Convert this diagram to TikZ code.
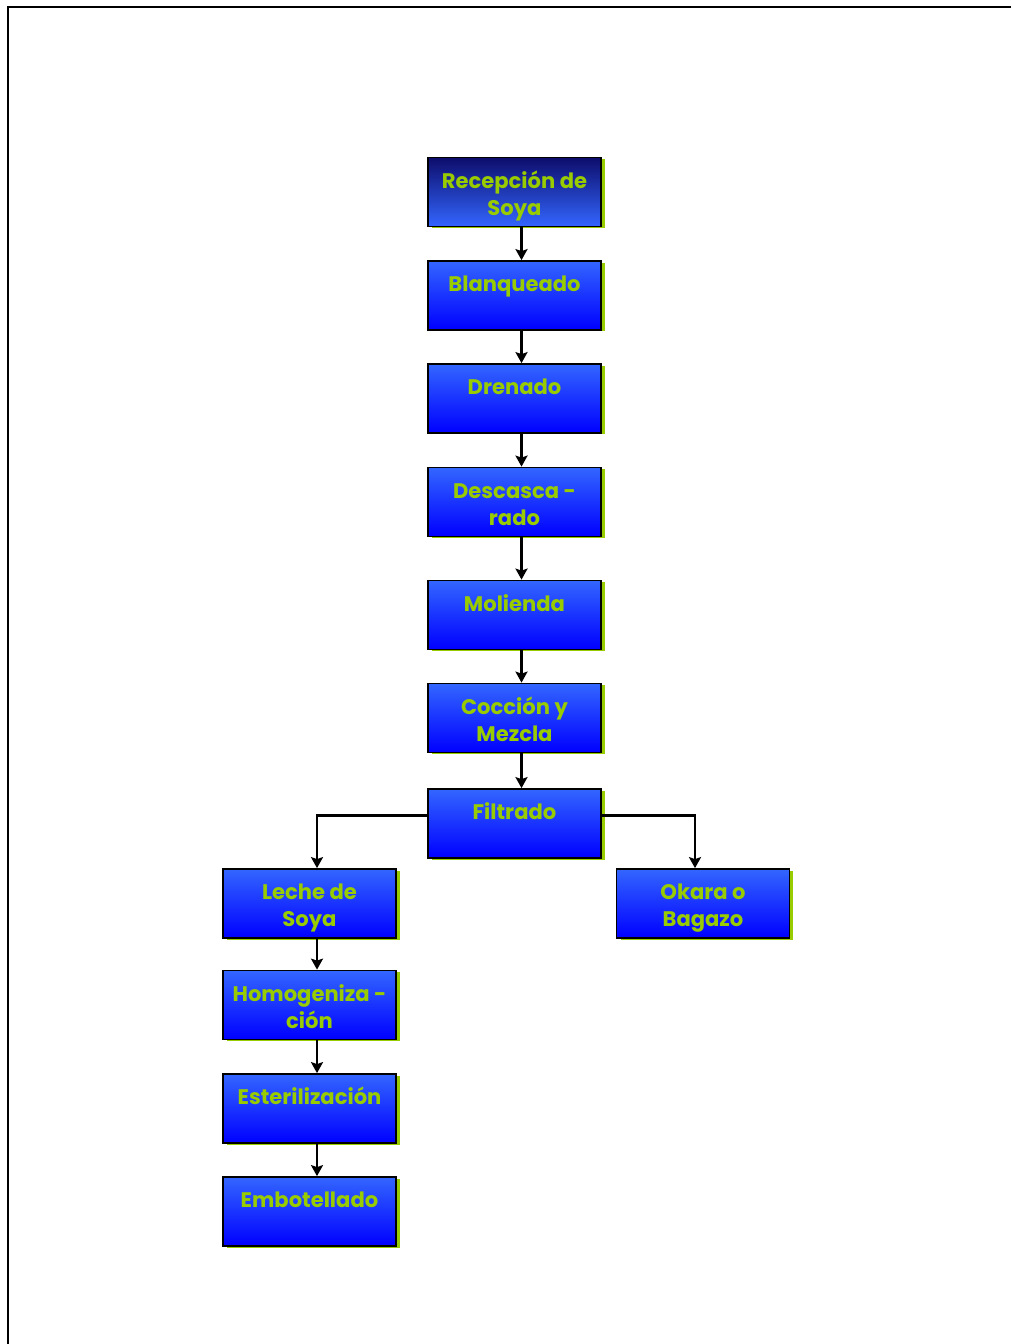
\documentclass[tikz,border=0pt]{standalone}
\usepackage{fontspec}
\setsansfont{Poppins}
\usetikzlibrary{shadows,arrows.meta}
\definecolor{azulsup}{HTML}{3366FF}
\definecolor{azulinf}{HTML}{0000FF}
\definecolor{azuloscuro}{HTML}{0D0D6B}
\definecolor{verdeclaro}{HTML}{99CC00}
\tikzset{
  etapa/.style={draw=black, line width=1pt, minimum width=3.46cm, minimum height=1.38cm,
    inner sep=0pt, top color=azulsup, bottom color=azulinf, text=verdeclaro,
    font=\sffamily\bfseries\fontsize{12}{15.3}\selectfont,
    general shadow={shadow xshift=0.08cm, shadow yshift=-0.03cm, fill=verdeclaro}},
  flecha/.style={->, line width=1.6pt}
}
\newcommand{\txt}[1]{\parbox[c][0.9cm][t]{3.4cm}{\centering\strut #1}}
\begin{document}
\begin{tikzpicture}[>={Stealth[length=0.22cm,width=0.24cm,inset=0.04cm]}, x=0.02cm, y=-0.02cm]
\useasboundingbox (0,0) rectangle (1011,1344);
% marco de la hoja
\draw[line width=1.5pt] (1011,7) -- (8,7) -- (8,1344);
% columna central
\node[etapa, top color=azuloscuro, bottom color=azulsup] (rec) at (514.5,192) {\txt{Recepción de\\Soya}};
\node[etapa] (bla) at (514.5,295.5) {\txt{Blanqueado}};
\node[etapa] (dre) at (514.5,398.5) {\txt{Drenado}};
\node[etapa] (des) at (514.5,502) {\txt{Descasca -\\rado}};
\node[etapa] (mol) at (514.5,615) {\txt{Molienda}};
\node[etapa] (coc) at (514.5,718) {\txt{Cocción y\\Mezcla}};
\node[etapa] (fil) at (514.5,823.5) {\txt{Filtrado}};
% salidas del filtrado
\node[etapa] (lec) at (309.5,903.5) {\txt{Leche de\\Soya}};
\node[etapa] (oka) at (703,903.5) {\txt{Okara o\\Bagazo}};
% columna izquierda
\node[etapa] (hom) at (309.5,1005) {\txt{Homogeniza -\\ción}};
\node[etapa] (est) at (309.5,1108.5) {\txt{Esterilización}};
\node[etapa] (emb) at (309.5,1211.5) {\txt{Embotellado}};
% flechas
\foreach \a/\b in {rec/bla,bla/dre,dre/des,des/mol,mol/coc,coc/fil}
  \draw[flecha] ([xshift=0.14cm]\a.south) -- ([xshift=0.14cm]\b.north);
\foreach \a/\b in {lec/hom,hom/est,est/emb}
  \draw[flecha] ([xshift=0.15cm]\a.south) -- ([xshift=0.15cm]\b.north);
\draw[flecha] ([yshift=-0.54cm]fil.north west) -| ([xshift=0.15cm]lec.north);
\draw[flecha] ([yshift=-0.54cm]fil.north east) -| ([xshift=-0.16cm]oka.north);
\end{tikzpicture}
\end{document}
